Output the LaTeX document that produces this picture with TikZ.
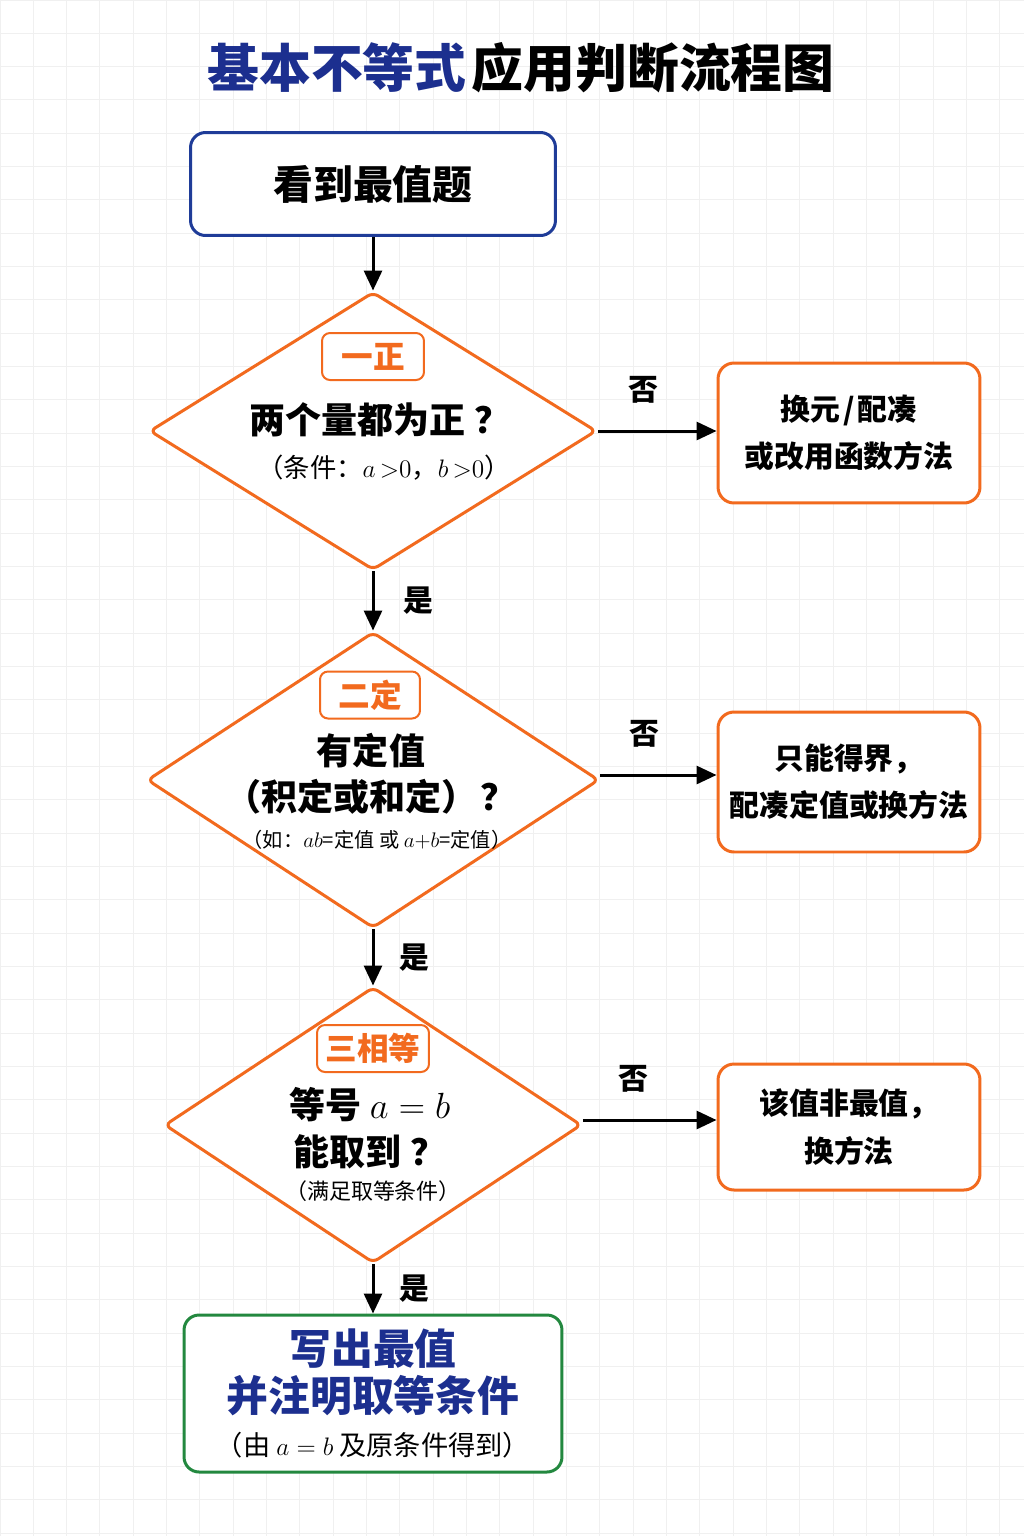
\documentclass[tikz,border=0pt]{standalone}
\usepackage{fontspec}
\setmainfont{Noto Sans CJK SC}
\usetikzlibrary{shapes.geometric,arrows.meta,positioning}

\definecolor{lineorange}{HTML}{F26A1E}
\definecolor{titleblue}{HTML}{1C2F8F}
\definecolor{startblue}{HTML}{1F3C98}
\definecolor{endgreen}{HTML}{23883F}
\definecolor{gridgray}{HTML}{F0F0F0}

\begin{document}
\begin{tikzpicture}[x=0.02cm,y=-0.02cm,
  startbox/.style={rectangle, rounded corners=0.3cm, draw=startblue, line width=0.06cm, fill=white, align=center},
  endbox/.style={rectangle, rounded corners=0.3cm, draw=endgreen, line width=0.06cm, fill=white, align=center},
  decision/.style={diamond, draw=lineorange, line width=0.06cm, fill=white, rounded corners=0.12cm, inner sep=0pt},
  sidebox/.style={rectangle, rounded corners=0.32cm, draw=lineorange, line width=0.06cm, fill=white, minimum width=5.24cm, align=center, font=\fontsize{17pt}{27pt}\selectfont\bfseries},
  tag/.style={rectangle, rounded corners=0.16cm, draw=lineorange, line width=0.04cm, fill=white, text=lineorange, minimum height=0.94cm, inner xsep=0.16cm, font=\fontsize{18pt}{20pt}\selectfont\bfseries},
  ask/.style={inner sep=0pt, align=center, font=\fontsize{20.5pt}{26.5pt}\selectfont\bfseries},
  note/.style={inner sep=0pt, font=\fontsize{15pt}{17pt}\selectfont},
  lbl/.style={inner sep=0pt, font=\fontsize{17pt}{20pt}\selectfont\bfseries},
  arr/.style={-{Triangle[length=0.4cm,width=0.36cm]}, line width=0.06cm, black}]

\fill[white] (0,0) rectangle (1024,1536);
\useasboundingbox (0,0) rectangle (1024,1536);
\draw[gridgray, line width=0.02cm, step=0.6667cm] (0,0) grid (1024,1536);

%--titolo
\node[font=\fontsize{29.5pt}{34pt}\selectfont\bfseries] (title) at (521,68) {\textcolor{titleblue}{基本不等式}\hspace{0.1em}应用判断流程图};

%--inizio
\node[startbox, minimum width=7.3cm, minimum height=2.06cm, font=\fontsize{22.7pt}{26pt}\selectfont\bfseries] (start) at (373,184) {看到最值题};

%--primo rombo: un positivo
\node[decision, minimum width=8.94cm, minimum height=5.56cm] (d1) at (373,431) {};
\node[tag, minimum width=2.04cm] (tag1) at (373,356.5) {一正};
\node[ask] (q1) at (380,420) {两个量都为正\hspace{0.25em}？};
\node[note] (n1) at (384,468) {（条件：$a\,{>}0$，$b\,{>}0$）};

\node[sidebox, minimum height=2.8cm] (box1) at (849,433) {换元\hspace{0.1em}/\hspace{0.1em}配凑\\或改用函数方法};
\draw[arr] (d1.east) -- node[lbl, pos=0.38, above=0.52cm] {否} (d1.east -| box1.west);

%--secondo rombo: due definiti
\node[decision, minimum width=9.04cm, minimum height=5.92cm] (d2) at (373,780) {};
\node[tag, minimum width=2.0cm] (tag2) at (370,695) {二定};
\node[ask] (q2) at (371,774) {有定值\\（积定或和定）\hspace{0.1em}？};
\node[note, font=\fontsize{11.5pt}{14pt}\selectfont] (n2) at (377,840) {（如：$ab$=定值 或 $a{+}b$=定值）};

\node[sidebox, minimum height=2.8cm] (box2) at (849,782) {只能得界，\\配凑定值或换方法};
\draw[arr] (d1.south) -- node[lbl, right=0.58cm] {是} (d2.north);
\draw[arr] (d2.east |- 0,775) -- node[lbl, pos=0.38, above=0.52cm] {否} (box2.west |- 0,775);

%--terzo rombo: tre uguali
\node[decision, minimum width=8.34cm, minimum height=5.52cm] (d3) at (373,1125) {};
\node[tag, minimum width=2.24cm] (tag3) at (373,1048.5) {三相等};
\node[ask] (q3) at (370,1128) {等号 $a=b$\\能取到\hspace{0.25em}？};
\node[note, font=\fontsize{12.5pt}{15pt}\selectfont] (n3) at (373,1191) {（满足取等条件）};

\node[sidebox, minimum height=2.52cm] (box3) at (849,1127) {该值非最值，\\换方法};
\draw[arr] (d2.south) -- node[lbl, right=0.5cm] {是} (d3.north);
\draw[arr] (d3.east |- 0,1120) -- node[lbl, pos=0.38, above=0.52cm] {否} (box3.west |- 0,1120);

%--fine
\node[endbox, minimum width=7.56cm, minimum height=3.14cm, font=\fontsize{23.8pt}{27pt}\selectfont\bfseries] (finish) at (373,1393.5)
  {\textcolor{titleblue}{写出最值}\\\textcolor{titleblue}{并注明取等条件}\\[-2pt]{\fontsize{15.5pt}{18pt}\selectfont\mdseries （由 $a=b$ 及原条件得到）}};
\draw[arr] (d3.south) -- node[lbl, right=0.5cm] {是} (finish.north);

\draw[arr] (start) -- (d1);

\end{tikzpicture}
\end{document}
